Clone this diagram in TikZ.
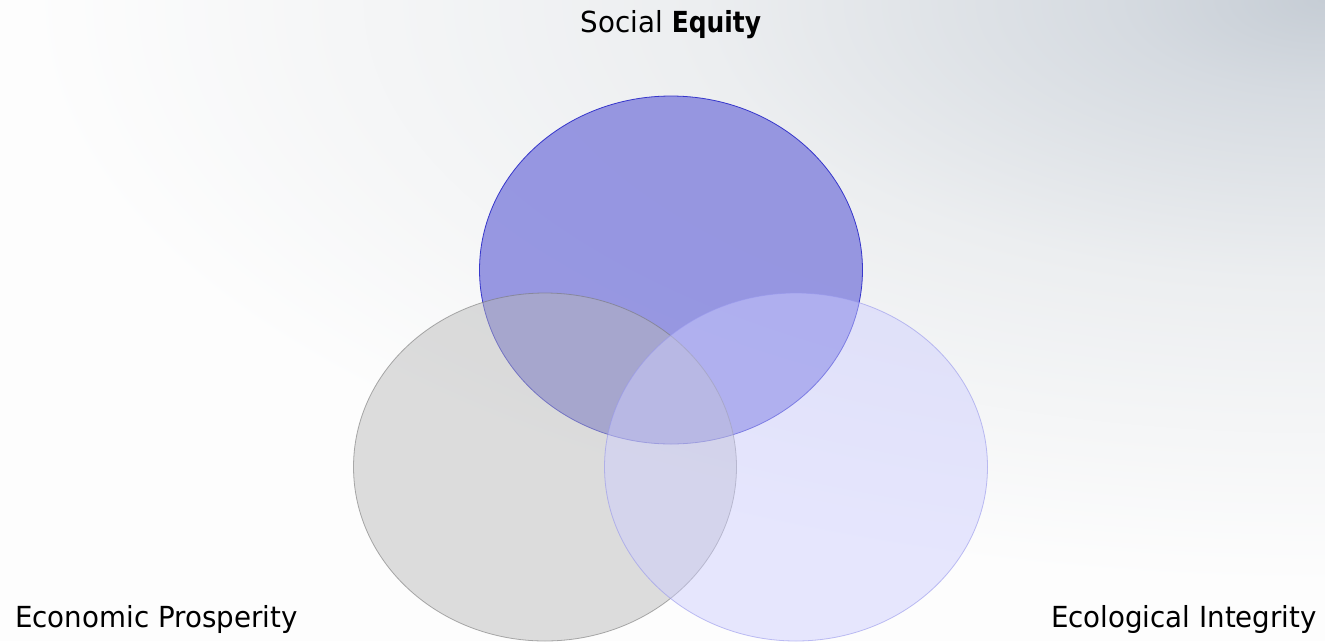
\documentclass[tikz,border=0pt]{standalone}
\usepackage{fontspec}
\setmainfont{DejaVu Sans}[FakeStretch=0.955, BoldFont={DejaVu Sans Condensed Bold}]
\usetikzlibrary{shapes.geometric}
\definecolor{bgtop}{RGB}{198,205,213}
\definecolor{bgA}{RGB}{214,219,225}
\definecolor{bgB}{RGB}{236,238,240}
\definecolor{bgC}{RGB}{253,253,253}
\pgfdeclareradialshading{bgrad}{\pgfpoint{0bp}{0bp}}{color(0bp)=(bgtop); color(4bp)=(bgA); color(12bp)=(bgB); color(25bp)=(bgC); color(50bp)=(bgC)}
\definecolor{socfill}{RGB}{146,146,224}
\definecolor{socdraw}{RGB}{40,40,200}
\definecolor{ecofill}{RGB}{184,184,184}
\definecolor{ecodraw}{RGB}{120,120,120}
\definecolor{ecolfill}{RGB}{205,205,255}
\definecolor{ecoldraw}{RGB}{150,150,235}
\tikzset{
  lbl/.style={font=\fontsize{29}{31}\selectfont, text=black, inner sep=0pt},
  circ/.style={ellipse, minimum width=383pt, minimum height=348pt, inner sep=0pt, line width=0.8pt},
}
\begin{document}
\begin{tikzpicture}[x=1pt,y=-1pt]
\useasboundingbox (0,0) rectangle (1325,641);
\fill[bgC] (0,0) rectangle (1325,641);
\begin{scope}
\clip (0,0) rectangle (1325,641);
\begin{scope}[shift={(1325,0)}, yscale=0.45]
\shade[shading=bgrad] (0,0) circle (1300);
\end{scope}
\end{scope}
\node[circ, fill=socfill, draw=socdraw, fill opacity=0.95, draw opacity=0.9] (soc) at (671,270) {};
\node[circ, fill=ecofill, draw=ecodraw, fill opacity=0.47, draw opacity=0.6] (eco) at (545,467) {};
\node[circ, fill=ecolfill, draw=ecoldraw, fill opacity=0.47, draw opacity=0.6] (ecol) at (796,467) {};
\node[lbl, anchor=base] (t1) at (671,32) {Social \textbf{Equity}};
\node[lbl, anchor=base west] (t2) at (15,627) {Economic Prosperity};
\node[lbl, anchor=base east] (t3) at (1317,627) {Ecological Integrity};
\end{tikzpicture}
\end{document}
